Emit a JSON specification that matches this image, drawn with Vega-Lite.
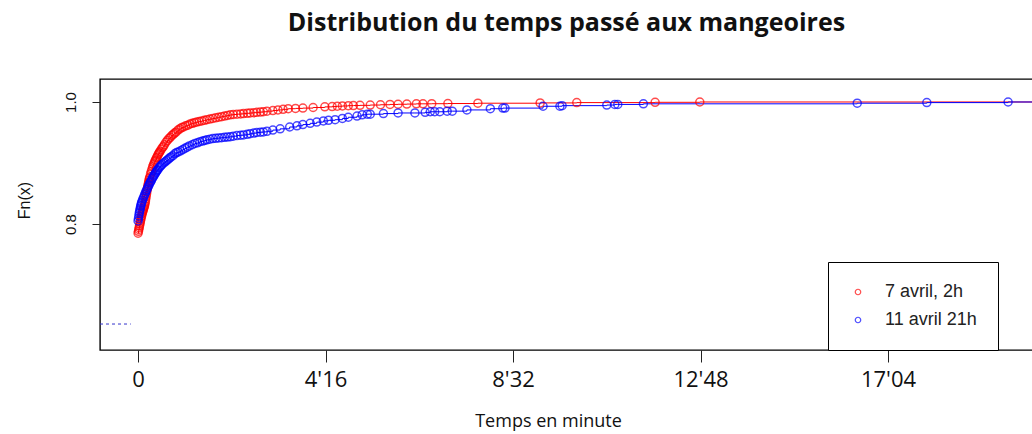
{
  "$schema": "https://vega.github.io/schema/vega-lite/v6.json",
  "width": 933,
  "height": 271,
  "autosize": "none",
  "padding": {"left": 100, "top": 79, "right": 0, "bottom": 84},
  "background": "white",
  "config": {
    "view": {"stroke": "#000000", "strokeWidth": 1.4},
    "axis": {"grid": false, "domain": false, "tickColor": "#222222", "labelColor": "#111111", "titleColor": "#111111", "titleFontWeight": "normal"}
  },
  "title": {
    "text": "Distribution du temps passé aux mangeoires",
    "font": "Open Sans",
    "fontWeight": "bold",
    "fontSize": 25,
    "color": "#111111",
    "anchor": "middle",
    "baseline": "alphabetic",
    "offset": 23
  },
  "datasets": {
    "ecdf": [
      {"serie": "7 avril, 2h", "t": 0, "Fn": 0.785},
      {"serie": "7 avril, 2h", "t": 0.5, "Fn": 0.788},
      {"serie": "7 avril, 2h", "t": 1, "Fn": 0.791},
      {"serie": "7 avril, 2h", "t": 1.5, "Fn": 0.794},
      {"serie": "7 avril, 2h", "t": 2, "Fn": 0.797},
      {"serie": "7 avril, 2h", "t": 2.5, "Fn": 0.800},
      {"serie": "7 avril, 2h", "t": 3, "Fn": 0.803},
      {"serie": "7 avril, 2h", "t": 3.5, "Fn": 0.806},
      {"serie": "7 avril, 2h", "t": 4, "Fn": 0.809},
      {"serie": "7 avril, 2h", "t": 4.5, "Fn": 0.812},
      {"serie": "7 avril, 2h", "t": 5, "Fn": 0.814},
      {"serie": "7 avril, 2h", "t": 5.5, "Fn": 0.817},
      {"serie": "7 avril, 2h", "t": 6, "Fn": 0.819},
      {"serie": "7 avril, 2h", "t": 6.5, "Fn": 0.821},
      {"serie": "7 avril, 2h", "t": 7, "Fn": 0.823},
      {"serie": "7 avril, 2h", "t": 7.5, "Fn": 0.825},
      {"serie": "7 avril, 2h", "t": 8, "Fn": 0.827},
      {"serie": "7 avril, 2h", "t": 8.5, "Fn": 0.829},
      {"serie": "7 avril, 2h", "t": 9, "Fn": 0.831},
      {"serie": "7 avril, 2h", "t": 9.5, "Fn": 0.834},
      {"serie": "7 avril, 2h", "t": 10, "Fn": 0.837},
      {"serie": "7 avril, 2h", "t": 10.5, "Fn": 0.841},
      {"serie": "7 avril, 2h", "t": 11, "Fn": 0.845},
      {"serie": "7 avril, 2h", "t": 11.5, "Fn": 0.849},
      {"serie": "7 avril, 2h", "t": 12, "Fn": 0.853},
      {"serie": "7 avril, 2h", "t": 12.5, "Fn": 0.857},
      {"serie": "7 avril, 2h", "t": 13, "Fn": 0.860},
      {"serie": "7 avril, 2h", "t": 13.5, "Fn": 0.863},
      {"serie": "7 avril, 2h", "t": 14, "Fn": 0.866},
      {"serie": "7 avril, 2h", "t": 14.5, "Fn": 0.869},
      {"serie": "7 avril, 2h", "t": 15, "Fn": 0.872},
      {"serie": "7 avril, 2h", "t": 15.5, "Fn": 0.875},
      {"serie": "7 avril, 2h", "t": 16, "Fn": 0.877},
      {"serie": "7 avril, 2h", "t": 17, "Fn": 0.882},
      {"serie": "7 avril, 2h", "t": 18, "Fn": 0.886},
      {"serie": "7 avril, 2h", "t": 19, "Fn": 0.890},
      {"serie": "7 avril, 2h", "t": 20, "Fn": 0.894},
      {"serie": "7 avril, 2h", "t": 21, "Fn": 0.897},
      {"serie": "7 avril, 2h", "t": 22, "Fn": 0.900},
      {"serie": "7 avril, 2h", "t": 23, "Fn": 0.903},
      {"serie": "7 avril, 2h", "t": 24, "Fn": 0.905},
      {"serie": "7 avril, 2h", "t": 25, "Fn": 0.908},
      {"serie": "7 avril, 2h", "t": 26, "Fn": 0.910},
      {"serie": "7 avril, 2h", "t": 27, "Fn": 0.913},
      {"serie": "7 avril, 2h", "t": 28, "Fn": 0.915},
      {"serie": "7 avril, 2h", "t": 29, "Fn": 0.917},
      {"serie": "7 avril, 2h", "t": 30, "Fn": 0.919},
      {"serie": "7 avril, 2h", "t": 31.5, "Fn": 0.922},
      {"serie": "7 avril, 2h", "t": 33, "Fn": 0.925},
      {"serie": "7 avril, 2h", "t": 34.5, "Fn": 0.927},
      {"serie": "7 avril, 2h", "t": 36, "Fn": 0.930},
      {"serie": "7 avril, 2h", "t": 38, "Fn": 0.934},
      {"serie": "7 avril, 2h", "t": 40, "Fn": 0.937},
      {"serie": "7 avril, 2h", "t": 42, "Fn": 0.940},
      {"serie": "7 avril, 2h", "t": 44, "Fn": 0.942},
      {"serie": "7 avril, 2h", "t": 46, "Fn": 0.945},
      {"serie": "7 avril, 2h", "t": 48, "Fn": 0.947},
      {"serie": "7 avril, 2h", "t": 50, "Fn": 0.949},
      {"serie": "7 avril, 2h", "t": 52, "Fn": 0.951},
      {"serie": "7 avril, 2h", "t": 54.5, "Fn": 0.954},
      {"serie": "7 avril, 2h", "t": 57, "Fn": 0.956},
      {"serie": "7 avril, 2h", "t": 59.5, "Fn": 0.958},
      {"serie": "7 avril, 2h", "t": 62, "Fn": 0.959},
      {"serie": "7 avril, 2h", "t": 65, "Fn": 0.961},
      {"serie": "7 avril, 2h", "t": 68, "Fn": 0.962},
      {"serie": "7 avril, 2h", "t": 71, "Fn": 0.964},
      {"serie": "7 avril, 2h", "t": 74, "Fn": 0.965},
      {"serie": "7 avril, 2h", "t": 77, "Fn": 0.966},
      {"serie": "7 avril, 2h", "t": 80, "Fn": 0.967},
      {"serie": "7 avril, 2h", "t": 83.5, "Fn": 0.968},
      {"serie": "7 avril, 2h", "t": 87, "Fn": 0.969},
      {"serie": "7 avril, 2h", "t": 90.5, "Fn": 0.970},
      {"serie": "7 avril, 2h", "t": 94, "Fn": 0.971},
      {"serie": "7 avril, 2h", "t": 98, "Fn": 0.972},
      {"serie": "7 avril, 2h", "t": 102, "Fn": 0.973},
      {"serie": "7 avril, 2h", "t": 106, "Fn": 0.974},
      {"serie": "7 avril, 2h", "t": 110, "Fn": 0.975},
      {"serie": "7 avril, 2h", "t": 114, "Fn": 0.976},
      {"serie": "7 avril, 2h", "t": 118, "Fn": 0.977},
      {"serie": "7 avril, 2h", "t": 122, "Fn": 0.978},
      {"serie": "7 avril, 2h", "t": 126, "Fn": 0.979},
      {"serie": "7 avril, 2h", "t": 130, "Fn": 0.9795},
      {"serie": "7 avril, 2h", "t": 135, "Fn": 0.980},
      {"serie": "7 avril, 2h", "t": 140, "Fn": 0.9805},
      {"serie": "7 avril, 2h", "t": 144, "Fn": 0.981},
      {"serie": "7 avril, 2h", "t": 149, "Fn": 0.9815},
      {"serie": "7 avril, 2h", "t": 153, "Fn": 0.982},
      {"serie": "7 avril, 2h", "t": 158, "Fn": 0.9825},
      {"serie": "7 avril, 2h", "t": 162, "Fn": 0.983},
      {"serie": "7 avril, 2h", "t": 167, "Fn": 0.9835},
      {"serie": "7 avril, 2h", "t": 171, "Fn": 0.984},
      {"serie": "7 avril, 2h", "t": 176, "Fn": 0.985},
      {"serie": "7 avril, 2h", "t": 184, "Fn": 0.986},
      {"serie": "7 avril, 2h", "t": 191, "Fn": 0.987},
      {"serie": "7 avril, 2h", "t": 198, "Fn": 0.988},
      {"serie": "7 avril, 2h", "t": 205, "Fn": 0.989},
      {"serie": "7 avril, 2h", "t": 215, "Fn": 0.9895},
      {"serie": "7 avril, 2h", "t": 225, "Fn": 0.990},
      {"serie": "7 avril, 2h", "t": 239, "Fn": 0.991},
      {"serie": "7 avril, 2h", "t": 255, "Fn": 0.992},
      {"serie": "7 avril, 2h", "t": 265, "Fn": 0.9925},
      {"serie": "7 avril, 2h", "t": 272, "Fn": 0.993},
      {"serie": "7 avril, 2h", "t": 279, "Fn": 0.9935},
      {"serie": "7 avril, 2h", "t": 287, "Fn": 0.994},
      {"serie": "7 avril, 2h", "t": 294, "Fn": 0.9942},
      {"serie": "7 avril, 2h", "t": 303, "Fn": 0.9945},
      {"serie": "7 avril, 2h", "t": 317, "Fn": 0.995},
      {"serie": "7 avril, 2h", "t": 331, "Fn": 0.9955},
      {"serie": "7 avril, 2h", "t": 344, "Fn": 0.996},
      {"serie": "7 avril, 2h", "t": 355, "Fn": 0.9963},
      {"serie": "7 avril, 2h", "t": 367, "Fn": 0.9966},
      {"serie": "7 avril, 2h", "t": 380, "Fn": 0.997},
      {"serie": "7 avril, 2h", "t": 389, "Fn": 0.997},
      {"serie": "7 avril, 2h", "t": 401, "Fn": 0.9972},
      {"serie": "7 avril, 2h", "t": 423, "Fn": 0.9975},
      {"serie": "7 avril, 2h", "t": 464, "Fn": 0.998},
      {"serie": "7 avril, 2h", "t": 549, "Fn": 0.9985},
      {"serie": "7 avril, 2h", "t": 599, "Fn": 0.999},
      {"serie": "7 avril, 2h", "t": 706, "Fn": 0.9995},
      {"serie": "7 avril, 2h", "t": 767, "Fn": 1.0},
      {"serie": "7 avril, 2h", "t": 1222, "Fn": 1.0, "fin": true},
      {"serie": "11 avril 21h", "t": 0, "Fn": 0.805},
      {"serie": "11 avril 21h", "t": 0.5, "Fn": 0.809},
      {"serie": "11 avril 21h", "t": 1, "Fn": 0.813},
      {"serie": "11 avril 21h", "t": 1.5, "Fn": 0.817},
      {"serie": "11 avril 21h", "t": 2, "Fn": 0.820},
      {"serie": "11 avril 21h", "t": 2.5, "Fn": 0.823},
      {"serie": "11 avril 21h", "t": 3, "Fn": 0.826},
      {"serie": "11 avril 21h", "t": 3.5, "Fn": 0.829},
      {"serie": "11 avril 21h", "t": 4, "Fn": 0.831},
      {"serie": "11 avril 21h", "t": 4.5, "Fn": 0.834},
      {"serie": "11 avril 21h", "t": 5, "Fn": 0.836},
      {"serie": "11 avril 21h", "t": 6, "Fn": 0.839},
      {"serie": "11 avril 21h", "t": 7, "Fn": 0.842},
      {"serie": "11 avril 21h", "t": 8, "Fn": 0.845},
      {"serie": "11 avril 21h", "t": 9, "Fn": 0.848},
      {"serie": "11 avril 21h", "t": 10, "Fn": 0.851},
      {"serie": "11 avril 21h", "t": 11, "Fn": 0.854},
      {"serie": "11 avril 21h", "t": 12, "Fn": 0.856},
      {"serie": "11 avril 21h", "t": 13, "Fn": 0.859},
      {"serie": "11 avril 21h", "t": 14, "Fn": 0.862},
      {"serie": "11 avril 21h", "t": 15, "Fn": 0.864},
      {"serie": "11 avril 21h", "t": 16, "Fn": 0.867},
      {"serie": "11 avril 21h", "t": 17, "Fn": 0.869},
      {"serie": "11 avril 21h", "t": 18, "Fn": 0.871},
      {"serie": "11 avril 21h", "t": 19, "Fn": 0.874},
      {"serie": "11 avril 21h", "t": 20, "Fn": 0.876},
      {"serie": "11 avril 21h", "t": 21, "Fn": 0.878},
      {"serie": "11 avril 21h", "t": 22, "Fn": 0.880},
      {"serie": "11 avril 21h", "t": 23, "Fn": 0.882},
      {"serie": "11 avril 21h", "t": 24, "Fn": 0.884},
      {"serie": "11 avril 21h", "t": 25, "Fn": 0.886},
      {"serie": "11 avril 21h", "t": 26, "Fn": 0.888},
      {"serie": "11 avril 21h", "t": 27, "Fn": 0.889},
      {"serie": "11 avril 21h", "t": 28.5, "Fn": 0.892},
      {"serie": "11 avril 21h", "t": 30, "Fn": 0.894},
      {"serie": "11 avril 21h", "t": 31.5, "Fn": 0.896},
      {"serie": "11 avril 21h", "t": 33, "Fn": 0.898},
      {"serie": "11 avril 21h", "t": 35, "Fn": 0.900},
      {"serie": "11 avril 21h", "t": 37, "Fn": 0.902},
      {"serie": "11 avril 21h", "t": 39, "Fn": 0.904},
      {"serie": "11 avril 21h", "t": 41, "Fn": 0.906},
      {"serie": "11 avril 21h", "t": 43, "Fn": 0.908},
      {"serie": "11 avril 21h", "t": 45, "Fn": 0.910},
      {"serie": "11 avril 21h", "t": 47.5, "Fn": 0.912},
      {"serie": "11 avril 21h", "t": 50, "Fn": 0.915},
      {"serie": "11 avril 21h", "t": 52.5, "Fn": 0.917},
      {"serie": "11 avril 21h", "t": 55, "Fn": 0.918},
      {"serie": "11 avril 21h", "t": 58, "Fn": 0.920},
      {"serie": "11 avril 21h", "t": 61, "Fn": 0.922},
      {"serie": "11 avril 21h", "t": 64, "Fn": 0.924},
      {"serie": "11 avril 21h", "t": 67, "Fn": 0.926},
      {"serie": "11 avril 21h", "t": 70, "Fn": 0.928},
      {"serie": "11 avril 21h", "t": 74, "Fn": 0.930},
      {"serie": "11 avril 21h", "t": 77.5, "Fn": 0.932},
      {"serie": "11 avril 21h", "t": 81, "Fn": 0.933},
      {"serie": "11 avril 21h", "t": 84.5, "Fn": 0.935},
      {"serie": "11 avril 21h", "t": 88, "Fn": 0.936},
      {"serie": "11 avril 21h", "t": 91, "Fn": 0.937},
      {"serie": "11 avril 21h", "t": 94, "Fn": 0.938},
      {"serie": "11 avril 21h", "t": 98, "Fn": 0.939},
      {"serie": "11 avril 21h", "t": 102, "Fn": 0.940},
      {"serie": "11 avril 21h", "t": 106, "Fn": 0.9405},
      {"serie": "11 avril 21h", "t": 110, "Fn": 0.941},
      {"serie": "11 avril 21h", "t": 114, "Fn": 0.9415},
      {"serie": "11 avril 21h", "t": 118, "Fn": 0.942},
      {"serie": "11 avril 21h", "t": 122, "Fn": 0.9425},
      {"serie": "11 avril 21h", "t": 126, "Fn": 0.943},
      {"serie": "11 avril 21h", "t": 130, "Fn": 0.944},
      {"serie": "11 avril 21h", "t": 135, "Fn": 0.945},
      {"serie": "11 avril 21h", "t": 140, "Fn": 0.9455},
      {"serie": "11 avril 21h", "t": 144, "Fn": 0.946},
      {"serie": "11 avril 21h", "t": 149, "Fn": 0.947},
      {"serie": "11 avril 21h", "t": 153, "Fn": 0.948},
      {"serie": "11 avril 21h", "t": 158, "Fn": 0.949},
      {"serie": "11 avril 21h", "t": 162, "Fn": 0.950},
      {"serie": "11 avril 21h", "t": 167, "Fn": 0.9505},
      {"serie": "11 avril 21h", "t": 171, "Fn": 0.951},
      {"serie": "11 avril 21h", "t": 176, "Fn": 0.952},
      {"serie": "11 avril 21h", "t": 184, "Fn": 0.954},
      {"serie": "11 avril 21h", "t": 194, "Fn": 0.956},
      {"serie": "11 avril 21h", "t": 207, "Fn": 0.959},
      {"serie": "11 avril 21h", "t": 217, "Fn": 0.961},
      {"serie": "11 avril 21h", "t": 225, "Fn": 0.963},
      {"serie": "11 avril 21h", "t": 235, "Fn": 0.965},
      {"serie": "11 avril 21h", "t": 244, "Fn": 0.967},
      {"serie": "11 avril 21h", "t": 253, "Fn": 0.969},
      {"serie": "11 avril 21h", "t": 260, "Fn": 0.970},
      {"serie": "11 avril 21h", "t": 269, "Fn": 0.971},
      {"serie": "11 avril 21h", "t": 279, "Fn": 0.973},
      {"serie": "11 avril 21h", "t": 287, "Fn": 0.975},
      {"serie": "11 avril 21h", "t": 299, "Fn": 0.977},
      {"serie": "11 avril 21h", "t": 306, "Fn": 0.979},
      {"serie": "11 avril 21h", "t": 313, "Fn": 0.980},
      {"serie": "11 avril 21h", "t": 317, "Fn": 0.980},
      {"serie": "11 avril 21h", "t": 335, "Fn": 0.981},
      {"serie": "11 avril 21h", "t": 355, "Fn": 0.982},
      {"serie": "11 avril 21h", "t": 378, "Fn": 0.982},
      {"serie": "11 avril 21h", "t": 392, "Fn": 0.983},
      {"serie": "11 avril 21h", "t": 399, "Fn": 0.984},
      {"serie": "11 avril 21h", "t": 405, "Fn": 0.984},
      {"serie": "11 avril 21h", "t": 412, "Fn": 0.984},
      {"serie": "11 avril 21h", "t": 422, "Fn": 0.985},
      {"serie": "11 avril 21h", "t": 429, "Fn": 0.985},
      {"serie": "11 avril 21h", "t": 449, "Fn": 0.987},
      {"serie": "11 avril 21h", "t": 481, "Fn": 0.989},
      {"serie": "11 avril 21h", "t": 498, "Fn": 0.990},
      {"serie": "11 avril 21h", "t": 501, "Fn": 0.990},
      {"serie": "11 avril 21h", "t": 553, "Fn": 0.993},
      {"serie": "11 avril 21h", "t": 576, "Fn": 0.993},
      {"serie": "11 avril 21h", "t": 579, "Fn": 0.994},
      {"serie": "11 avril 21h", "t": 640, "Fn": 0.995},
      {"serie": "11 avril 21h", "t": 651, "Fn": 0.996},
      {"serie": "11 avril 21h", "t": 655, "Fn": 0.996},
      {"serie": "11 avril 21h", "t": 690, "Fn": 0.997},
      {"serie": "11 avril 21h", "t": 982, "Fn": 0.998},
      {"serie": "11 avril 21h", "t": 1077, "Fn": 0.999},
      {"serie": "11 avril 21h", "t": 1188, "Fn": 1.0},
      {"serie": "11 avril 21h", "t": 1222, "Fn": 1.0, "fin": true}
    ],
    "zero": [
      {"serie": "11 avril 21h", "t": -52, "Fn": 0.636},
      {"serie": "11 avril 21h", "t": -10, "Fn": 0.636}
    ]
  },
  "encoding": {
    "x": {
      "field": "t",
      "type": "quantitative",
      "scale": {"domain": [-52, 1222], "nice": false, "zero": false},
      "axis": {
        "values": [0, 256, 512, 768, 1024],
        "labelExpr": "datum.value == 256 ? \"4'16\" : datum.value == 512 ? \"8'32\" : datum.value == 768 ? \"12'48\" : datum.value == 1024 ? \"17'04\" : \"0\"",
        "tickSize": 12,
        "labelFont": "Open Sans",
        "labelFontSize": 22,
        "labelPadding": 7,
        "title": "Temps en minute",
        "titleFont": "Open Sans",
        "titleFontSize": 18,
        "titleX": 448,
        "titleY": 76,
        "titleBaseline": "alphabetic",
        "titleAnchor": "middle"
      }
    },
    "y": {
      "field": "Fn",
      "type": "quantitative",
      "scale": {"domain": [0.5934, 1.0377], "nice": false, "zero": false},
      "axis": {
        "values": [0.8, 1.0],
        "format": ".1f",
        "tickSize": 8,
        "labelAngle": -90,
        "labelAlign": "center",
        "labelBaseline": "bottom",
        "labelPadding": 14,
        "labelFont": "Liberation Sans",
        "labelFontSize": 15,
        "title": "Fn(x)",
        "titleFont": "Liberation Sans",
        "titleFontSize": 16,
        "titleAngle": -90,
        "titleX": -76,
        "titleY": 121,
        "titleAlign": "center",
        "titleBaseline": "middle"
      }
    },
    "color": {
      "field": "serie",
      "type": "nominal",
      "scale": {"domain": ["7 avril, 2h", "11 avril 21h"], "range": ["#ff0000", "#0000ff"]},
      "legend": {
        "title": null,
        "orient": "none",
        "legendX": 728,
        "legendY": 183,
        "padding": 21,
        "strokeColor": "#000000",
        "fillColor": "#ffffff",
        "symbolType": "circle",
        "symbolSize": 30,
        "symbolStrokeWidth": 1.2,
        "symbolFillColor": "transparent",
        "labelFont": "Liberation Sans",
        "labelFontSize": 18,
        "labelColor": "#222222",
        "labelOffset": 18,
        "labelExpr": "datum.label + '\u00a0\u00a0\u00a0\u00a0\u00a0\u00a0\u00a0\u00a0'",
        "rowPadding": 10
      }
    }
  },
  "layer": [
    {
      "mark": {"type": "rule", "color": "#b3b3b3", "strokeDash": [6, 5], "strokeWidth": 1},
      "encoding": {"y": {"datum": 1.0}, "color": {"value": "#b3b3b3"}}
    },
    {
      "mark": {"type": "rule", "color": "#b3b3b3", "strokeDash": [6, 5], "strokeWidth": 1},
      "encoding": {"y": {"datum": 0.636}, "color": {"value": "#b3b3b3"}}
    },
    {
      "data": {"name": "zero"},
      "mark": {"type": "line", "strokeWidth": 1, "strokeDash": [3, 3]},
      "encoding": {"color": {"value": "#3333cc"}}
    },
    {
      "data": {"name": "ecdf"},
      "mark": {"type": "line", "interpolate": "step-after", "strokeWidth": 1, "clip": true},
      "encoding": {}
    },
    {
      "data": {"name": "ecdf"},
      "transform": [{"filter": "datum.fin !== true"}],
      "mark": {"type": "point", "shape": "circle", "filled": false, "size": 64, "strokeWidth": 1.5},
      "encoding": {}
    }
  ]
}
